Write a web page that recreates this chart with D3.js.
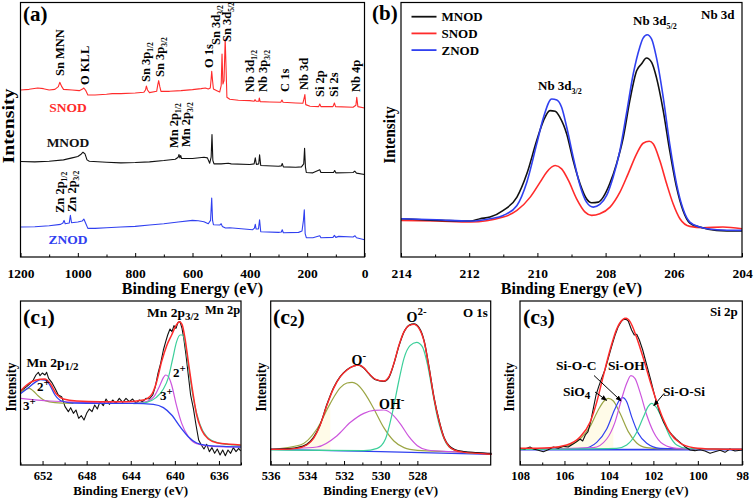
<!DOCTYPE html>
<html><head><meta charset="utf-8">
<script src="https://cdn.jsdelivr.net/npm/d3@7"></script>
<style>body{margin:0;background:#fff}svg{display:block}text{font-family:"Liberation Serif","Times New Roman",serif;font-weight:bold}</style>
</head><body><svg id="chart" width="756" height="500"></svg>
<script>
// ---------- (a) survey spectra: [binding energy eV, intensity a.u.] ----------
const surveyMajor=[1200,1000,800,600,400,200,0];
const surveyMinor=[1100,900,700,500,300,100];
const snodSurvey=[[1200,502],[1170,504],[1140,508],[1120,506],[1100,502],[1080,504],[1068,512],[1063,525],[1056,512],[1050,504],[1020,502],[995,500],[985,504],[979,508],[972,500],[965,487],[940,487],[900,489],[880,491],[850,491],[800,493],[770,495],[764,502],[761,514],[757,502],[750,494],[725,498],[721,518],[718,530],[714,512],[710,498],[680,498],[640,500],[600,503],[570,506],[555,508],[545,505],[538,508],[535,535],[533,558],[530,530],[527,505],[515,500],[505,496],[500,515],[497,610],[494,520],[490,530],[486,655],[483,570],[480,480],[470,474],[440,471],[400,470],[385,468],[382,473],[378,468],[369,468],[367,478],[364,467],[330,466],[292,465],[288,472],[284,465],[240,463],[215,462],[210,480],[208,488],[205,458],[190,453],[160,452],[156,460],[152,452],[110,452],[105,463],[101,452],[40,450],[30,456],[27,480],[23,452],[0,448]];
const mnodSurvey=[[1200,287],[1150,286],[1100,288],[1050,292],[1020,298],[1000,302],[990,308],[982,315],[975,310],[968,292],[960,288],[900,285],[850,283],[800,284],[750,286],[700,290],[660,294],[650,300],[647,308],[644,298],[641,305],[638,296],[600,296],[560,300],[548,298],[540,282],[535,300],[532,368],[529,290],[525,280],[500,280],[475,282],[465,280],[400,278],[385,280],[381,298],[377,278],[369,280],[366,307],[362,275],[300,273],[290,274],[287,281],[283,271],[240,270],[220,271],[212,280],[209,327],[206,270],[203,254],[180,253],[156,262],[152,254],[108,254],[104,260],[100,253],[40,254],[34,258],[28,252],[0,248]];
const znodSurvey=[[1200,90],[1150,91],[1100,94],[1060,98],[1052,102],[1048,110],[1044,100],[1030,102],[1026,125],[1022,103],[1000,105],[985,108],[979,114],[973,102],[965,86],[940,86],[900,88],[850,90],[800,92],[750,96],[700,100],[650,105],[600,110],[580,109],[560,106],[545,100],[537,110],[533,177],[530,110],[527,97],[505,96],[500,100],[496,92],[485,87],[470,88],[420,84],[390,82],[384,87],[381,98],[378,84],[370,84],[366,112],[362,76],[300,74],[290,75],[287,82],[283,73],[230,74],[218,78],[213,110],[210,142],[207,70],[203,58],[180,58],[156,64],[152,58],[110,59],[105,65],[100,59],[90,62],[40,60],[33,64],[28,58],[0,52]];

// ---------- (b) Nb 3d ----------
const nbMajor=[214,212,210,208,206,204];
const nbMinor=[213,211,209,207,205];
const nbMNOD=[[214,115],[212.95,110],[211.97,108],[211.68,115],[211.39,120],[211.0,140],[210.6,180],[210.31,250],[210.02,350],[209.82,410],[209.63,440],[209.48,438],[209.34,420],[209.14,370],[208.95,290],[208.75,220],[208.56,175],[208.41,163],[208.21,165],[208.07,180],[207.88,220],[207.68,280],[207.48,360],[207.29,470],[207.09,560],[206.95,580],[206.8,598],[206.65,585],[206.51,540],[206.31,440],[206.12,320],[205.92,210],[205.73,140],[205.53,102],[205.24,90],[204.75,80],[204,78]];
const nbZNOD=[[214,115],[212.95,112],[211.97,108],[211.39,115],[211.0,125],[210.6,155],[210.31,225],[210.02,340],[209.82,420],[209.58,475],[209.43,472],[209.29,450],[209.14,390],[208.95,300],[208.75,215],[208.56,165],[208.36,150],[208.17,158],[207.97,185],[207.78,240],[207.58,320],[207.39,430],[207.19,550],[207.0,630],[206.9,658],[206.78,668],[206.65,655],[206.51,600],[206.31,480],[206.12,340],[205.92,220],[205.73,145],[205.53,105],[205.24,90],[204.75,82],[204,80]];
const nbSNOD=[[214,110],[212.95,108],[211.97,105],[211.0,120],[210.6,140],[210.21,180],[209.92,225],[209.73,255],[209.48,275],[209.29,265],[209.09,230],[208.85,175],[208.6,135],[208.41,125],[208.17,130],[207.87,150],[207.58,195],[207.34,250],[207.09,310],[206.9,342],[206.72,348],[206.6,340],[206.41,290],[206.21,220],[206.02,160],[205.82,115],[205.53,92],[205.14,88],[204.56,90],[204,85]];

// ---------- (c1) Mn 2p ----------
const mnMajor=[652,648,644,640,636];
const mnMinor=[654,650,646,642,638,634];
const mnRaw=[[654.0,220],[653.74,228],[653.44,235],[653.14,244],[652.84,255],[652.6,270],[652.38,278],[652.23,268],[652.02,276],[651.78,270],[651.63,278],[651.45,260],[651.17,248],[650.87,230],[650.57,210],[650.27,205],[649.96,175],[649.66,160],[649.45,172],[649.2,155],[648.97,165],[648.72,140],[648.48,148],[648.24,135],[648.0,155],[647.76,168],[647.51,160],[647.27,180],[647.03,168],[646.79,190],[646.49,178],[646.24,198],[645.94,182],[645.64,195],[645.34,185],[645.04,200],[644.73,188],[644.43,200],[644.13,190],[643.83,198],[643.52,185],[643.22,195],[642.92,190],[642.62,200],[642.31,198],[642.01,210],[641.77,235],[641.53,275],[641.29,305],[641.04,345],[640.83,370],[640.65,390],[640.44,408],[640.26,400],[640.08,418],[639.9,410],[639.71,428],[639.53,430],[639.35,410],[639.17,375],[638.99,330],[638.78,270],[638.57,210],[638.32,170],[638.08,120],[637.84,75],[637.6,60],[637.36,48],[637.11,62],[636.87,40],[636.63,52],[636.39,35],[636.15,48],[635.9,30],[635.66,45],[635.42,28],[635.18,45],[634.94,35],[634.7,52],[634.45,40],[634.21,50],[634.03,42]];
const mnFit=[[654.0,222],[653.44,240],[652.84,252],[652.23,257],[651.78,258],[651.32,245],[650.72,212],[650.11,198],[648.9,192],[646.79,190],[644.37,190],[642.86,195],[642.1,212],[641.65,250],[641.2,310],[640.74,358],[640.29,390],[639.9,418],[639.59,430],[639.35,422],[639.08,380],[638.78,310],[638.38,220],[638.02,150],[637.57,105],[636.96,78],[636.21,67],[635.0,62],[634.03,60]];
const mnBg=[[654.0,214],[653.29,232],[652.68,248],[652.17,256],[651.78,255],[651.38,242],[650.87,210],[650.27,192],[649.2,186],[646.79,185],[643.77,185],[641.95,182],[641.04,172],[640.29,150],[639.53,115],[638.78,85],[638.02,66],[637.11,59],[635.6,56],[634.03,54]];
const mn3p12=[[654.0,218],[653.59,226],[653.2,230],[652.84,222],[652.38,207],[651.78,193],[650.87,187],[649.2,185]];
const mn3p32=[[654.0,200],[651.32,192],[648.3,188],[643.77,185],[642.56,190],[641.89,205],[641.41,235],[641.04,262],[640.83,270],[640.59,265],[640.29,240],[639.9,185],[639.38,125],[638.78,85],[638.02,64],[636.51,56],[634.03,54]];
const mn2p32=[[643.77,184],[642.56,188],[641.71,202],[641.04,228],[640.59,262],[640.2,318],[639.84,370],[639.53,390],[639.29,390],[639.05,362],[638.75,292],[638.32,200],[637.72,122],[637.11,85],[636.21,68],[634.7,60],[634.03,58]];

// ---------- (c2) O 1s ----------
const oMajor=[536,534,532,530,528];
const oMinor=[535,533,531,529];
const oRaw=[[536,47],[535.31,48],[534.58,52],[534.03,62],[533.66,83],[533.3,121],[532.93,182],[532.57,232],[532.2,266],[531.84,286],[531.47,297],[531.2,300],[530.92,291],[530.65,274],[530.28,256],[529.83,251],[529.55,263],[529.28,304],[529.0,358],[528.73,399],[528.46,419],[528.18,423],[527.91,412],[527.63,372],[527.36,292],[527.09,202],[526.81,132],[526.54,82],[526.26,57],[525.99,47],[525.44,40],[524.71,37],[523.95,33]];
const oFit=[[536,47],[535.31,47],[534.58,50],[534.03,60],[533.66,80],[533.3,120],[532.93,180],[532.57,230],[532.2,265],[531.84,285],[531.47,297],[531.2,300],[530.92,292],[530.65,275],[530.28,257],[529.83,252],[529.55,265],[529.28,305],[529.0,360],[528.73,400],[528.46,418],[528.18,422],[527.91,410],[527.63,370],[527.36,290],[527.09,200],[526.81,130],[526.54,80],[526.26,55],[525.99,45],[525.44,38],[524.71,35],[523.95,32]];
const oMinus=[[536,47],[534.39,60],[533.48,108],[532.75,185],[532.2,232],[531.84,246],[531.56,248],[531.29,242],[530.83,212],[530.37,168],[529.83,112],[529.28,72],[528.73,52],[528.0,44],[526.17,40],[523.95,35]];
const oOH=[[536,47],[533.48,54],[532.38,88],[531.65,128],[530.92,155],[530.37,164],[529.83,165],[529.37,152],[528.91,122],[528.46,85],[528.0,58],[527.45,45],[526.17,40],[523.95,35]];
const o2minus=[[536,45],[530.92,43],[530.19,50],[529.74,78],[529.37,155],[529.0,255],[528.73,320],[528.4,358],[528.04,368],[527.73,355],[527.45,302],[527.18,222],[526.9,142],[526.54,78],[526.17,50],[525.44,38],[523.95,34]];
const oBg=[[536,47],[530,40],[523.95,32]];

// ---------- (c3) Si 2p ----------
const siMajor=[108,106,104,102,100,98];
const siMinor=[107,105,103,101,99];
const siRaw=[[108,50],[107.78,48],[107.55,54],[107.4,48],[107.18,44],[106.95,40],[106.73,46],[106.5,54],[106.28,50],[106.05,56],[105.83,54],[105.63,62],[105.45,70],[105.3,78],[105.18,72],[105.06,90],[104.94,100],[104.82,130],[104.7,170],[104.58,210],[104.46,235],[104.33,260],[104.18,285],[104.03,320],[103.88,355],[103.73,388],[103.58,415],[103.43,432],[103.28,440],[103.13,432],[102.98,405],[102.86,390],[102.75,392],[102.63,375],[102.48,345],[102.3,300],[102.12,255],[101.93,205],[101.73,160],[101.55,130],[101.37,108],[101.18,92],[100.98,78],[100.8,68],[100.58,55],[100.35,45],[100.13,43],[99.9,46],[99.68,42],[99.45,35],[99.23,40],[99.0,44],[98.78,38],[98.56,48],[98.33,42],[98,45]];
const siFit=[[108,50],[106.65,52],[105.9,60],[105.3,84],[104.85,128],[104.55,188],[104.25,268],[103.95,345],[103.65,408],[103.38,436],[103.23,440],[103.05,430],[102.75,382],[102.45,320],[102.15,252],[101.85,190],[101.55,136],[101.25,96],[100.8,66],[100.2,52],[99.3,48],[98,47]];
const siSiO4=[[108,48],[106.65,50],[105.9,57],[105.3,78],[104.85,115],[104.48,165],[104.22,192],[104.03,200],[103.8,192],[103.5,155],[103.13,100],[102.75,66],[102.3,52],[101.4,48],[98,47]];
const siSiOC=[[108,47],[105.15,50],[104.55,68],[104.1,108],[103.73,168],[103.5,197],[103.38,202],[103.2,190],[102.98,145],[102.68,95],[102.3,65],[101.7,50],[98,47]];
const siSiOH=[[108,47],[104.7,52],[104.1,78],[103.73,128],[103.43,198],[103.2,245],[103.01,268],[102.83,260],[102.6,218],[102.3,150],[102.0,100],[101.55,62],[100.95,50],[98,47]];
const siSiOSi=[[108,47],[103.65,50],[103.2,60],[102.75,98],[102.45,144],[102.23,176],[102.08,185],[101.88,174],[101.55,130],[101.25,85],[100.95,60],[100.5,50],[98,47]];
const siBg=[[108,46],[98,46]];

// ---------- drawing ----------
const FONT='"Liberation Serif","Times New Roman",serif';
const RED='#ff2b2b', BLUE='#3040f0', TEAL='#3ccf9a', MAG='#cc55dd', OLIVE='#9ba544', PALE='#fffbe8';
const svg=d3.select('#chart');

function panel(def){
  const g=svg.append('g');
  const x=d3.scaleLinear().domain(def.xd).range(def.xr);
  const y=d3.scaleLinear().domain(def.yd).range([def.yr[1],def.yr[0]]);
  const ax=g.append('g').attr('transform',`translate(0,${def.yr[1]})`)
    .call(d3.axisBottom(x).tickValues(def.major).tickSize(-4).tickPadding(def.pad).tickFormat(d3.format('d')));
  ax.select('.domain').remove();
  ax.selectAll('text').attr('font-size',def.tf).attr('font-family',FONT).attr('font-weight','bold').attr('fill','#000');
  ax.selectAll('line').attr('stroke','#000').attr('stroke-width',1);
  const mn=g.append('g').attr('transform',`translate(0,${def.yr[1]})`)
    .call(d3.axisBottom(x).tickValues(def.minor).tickSize(-2.5).tickFormat(''));
  mn.select('.domain').remove();
  mn.selectAll('line').attr('stroke','#000');
  const plot=g.append('g');
  g.append('rect').attr('x',def.xr[0]).attr('y',def.yr[0]).attr('width',def.xr[1]-def.xr[0]).attr('height',def.yr[1]-def.yr[0])
    .attr('fill','none').attr('stroke','#000').attr('stroke-width',1.2);
  g.append('text').attr('x',(def.xr[0]+def.xr[1])/2).attr('y',def.titleY).attr('text-anchor','middle')
    .attr('font-size',def.titleF).text('Binding Energy (eV)');
  g.append('text').attr('transform',`translate(${def.intX},${def.intY}) rotate(-90)`).attr('text-anchor','middle')
    .attr('font-size',def.intF).attr('textLength',def.intL).attr('lengthAdjust','spacingAndGlyphs').text('Intensity');
  return {g,plot,x,y};
}
function draw(p,data,color,w,curve){
  p.plot.append('path').datum(data).attr('fill','none').attr('stroke',color).attr('stroke-width',w)
    .attr('stroke-linejoin','round')
    .attr('d',d3.line().x(d=>p.x(d[0])).y(d=>p.y(d[1])).curve(curve||d3.curveLinear));
}
function fillUnder(p,data,base,color){
  p.plot.append('path').datum(data).attr('fill',color).attr('stroke','none')
    .attr('d',d3.area().x(d=>p.x(d[0])).y0(p.y(base)).y1(d=>p.y(d[1])).curve(d3.curveMonotoneX));
}
function rich(parent,parts,size,attrs){
  const t=parent.append('text').attr('font-size',size);
  Object.entries(attrs||{}).forEach(([k,v])=>t.attr(k,v));
  let cur=0;
  parts.forEach(pt=>{
    const a=typeof pt==='string'?[pt,'n',size,0]:pt;
    const target=a[1]==='n'?0:a[3];
    const ts=t.append('tspan').text(a[0]).attr('font-size',a[2]);
    if(target!==cur) ts.attr('dy',target-cur);
    cur=target;
  });
  return t;
}
function vlabel(parent,cx,yb,parts,size){
  const g=parent.append('g').attr('transform',`translate(${cx+size*0.33},${yb}) rotate(-90)`);
  rich(g,parts,size,{x:0,y:0});
}
const MC=d3.curveMonotoneX;

// ---- panel a ----
const pa=panel({xd:[1200,0],xr:[20.5,364.5],yd:[0,765],yr:[2.5,257],major:surveyMajor,minor:surveyMinor,pad:11,tf:13.5,
  titleY:294,titleF:16,intX:13.5,intY:126,intF:16,intL:75});
draw(pa,snodSurvey,RED,1.1);
draw(pa,mnodSurvey,'#111',1.1);
draw(pa,znodSurvey,BLUE,1.1);
rich(pa.g,['(a)'],21,{x:23,y:21});
const s1=(t)=>[t,'sub',7.5,3];
const LS=12.5;
vlabel(pa.g,60,76,['Sn MNN'],LS);
vlabel(pa.g,85,85,['O KLL'],LS);
vlabel(pa.g,146,82,['Sn 3p',s1('1/2')],LS);
vlabel(pa.g,160,77,['Sn 3p',s1('3/2')],LS);
vlabel(pa.g,209,68,['O 1s'],LS);
vlabel(pa.g,216,45,['Sn 3d',s1('3/2')],LS);
vlabel(pa.g,227,42,['Sn 3d',s1('5/2')],LS);
vlabel(pa.g,250,92,['Nb 3d',s1('1/2')],LS);
vlabel(pa.g,263,92,['Nb 3p',s1('3/2')],LS);
vlabel(pa.g,285,92,['C 1s'],LS);
vlabel(pa.g,304,90,['Nb 3d'],LS);
vlabel(pa.g,320,97,['Si 2p'],LS);
vlabel(pa.g,334,97,['Si 2s'],LS);
vlabel(pa.g,356,92,['Nb 4p'],LS);
vlabel(pa.g,174,148,['Mn 2p',s1('1/2')],LS);
vlabel(pa.g,186,147,['Mn 2p',s1('3/2')],LS);
vlabel(pa.g,59.5,213,['Zn 2p',s1('1/2')],LS);
vlabel(pa.g,72,212,['Zn 2p',s1('3/2')],LS);
rich(pa.g,['SNOD'],13.5,{x:68,y:112,'text-anchor':'middle',fill:RED});
rich(pa.g,['MNOD'],13.5,{x:68,y:147,'text-anchor':'middle',fill:'#111'});
rich(pa.g,['ZNOD'],13.5,{x:68,y:244,'text-anchor':'middle',fill:BLUE});

// ---- panel b ----
const pb=panel({xd:[214,204],xr:[401,742],yd:[0,765],yr:[2.5,257],major:nbMajor,minor:nbMinor,pad:11,tf:13.5,
  titleY:294,titleF:16,intX:395,intY:135,intF:16,intL:57});
draw(pb,nbSNOD,RED,1.6,MC);
draw(pb,nbMNOD,'#111',1.6,MC);
draw(pb,nbZNOD,BLUE,1.6,MC);
rich(pb.g,['(b)'],21,{x:372,y:20});
const legend=[['MNOD','#111'],['SNOD',RED],['ZNOD',BLUE]];
legend.forEach(([n,c],i)=>{
  const yy=16.7+i*16.7;
  pb.g.append('line').attr('x1',411.5).attr('x2',436.5).attr('y1',yy).attr('y2',yy).attr('stroke',c).attr('stroke-width',1.8);
  rich(pb.g,[n],13,{x:441.5,y:yy+4.5});
});
rich(pb.g,['Nb 3d',['5/2','sub',8,4]],13,{x:633,y:25});
rich(pb.g,['Nb 3d',['3/2','sub',8,4]],13,{x:538,y:90});
rich(pb.g,['Nb 3d'],13,{x:701,y:18.5});

// ---- panel c1 ----
const cCommon={yd:[0,492],yr:[301,465],pad:6.2,tf:12.5,titleY:494.5,titleF:13,intY:387,intF:14,intL:49};
const pc1=panel(Object.assign({xd:[654,634],xr:[20.5,241],major:mnMajor,minor:mnMinor,intX:15.5},cCommon));
draw(pc1,mnRaw,'#111',1.1);
draw(pc1,mn3p12,OLIVE,1.2,MC);
draw(pc1,mn3p32,MAG,1.2,MC);
draw(pc1,mn2p32,TEAL,1.2,MC);
draw(pc1,mnBg,BLUE,1.3,MC);
draw(pc1,mnFit,RED,1.5,MC);
rich(pc1.g,['(c',['1','sub',15,2],')'],22,{x:23,y:324});
rich(pc1.g,['Mn 2p',['3/2','sub',11,3]],13.5,{x:147,y:317});
rich(pc1.g,['Mn 2p'],12.5,{x:205,y:314});
rich(pc1.g,['Mn 2p',['1/2','sub',11,3]],13.5,{x:26.5,y:367});
const sp=(t)=>[t,'sup',11,-5];
rich(pc1.g,['2',sp('+')],13,{x:37,y:391});
rich(pc1.g,['3',sp('+')],13,{x:23,y:410});
rich(pc1.g,['2',sp('+')],13,{x:173,y:377});
rich(pc1.g,['3',sp('+')],13,{x:160,y:400});

// ---- panel c2 ----
const pc2=panel(Object.assign({xd:[536,524],xr:[270.7,490.7],major:oMajor,minor:oMinor,intX:265.5},cCommon));
fillUnder(pc2,oMinus.filter(d=>d[0]>532.3),45,PALE);
draw(pc2,oBg,BLUE,1.3);
draw(pc2,oMinus,OLIVE,1.2,MC);
draw(pc2,oOH,MAG,1.2,MC);
draw(pc2,o2minus,TEAL,1.2,MC);
draw(pc2,oRaw,'#111',1.3,MC);
draw(pc2,oFit,RED,1.4,MC);
rich(pc2.g,['(c',['2','sub',15,2],')'],22,{x:273,y:324});
rich(pc2.g,['O 1s'],13,{x:463,y:316.5});
rich(pc2.g,['O',['2-','sup',11,-7]],14,{x:406.5,y:322});
rich(pc2.g,['O',['-','sup',11,-6]],14,{x:351.5,y:365});
rich(pc2.g,['OH',['-','sup',11,-6]],14,{x:379,y:409});

// ---- panel c3 ----
const pc3=panel(Object.assign({xd:[108,98],xr:[520,742.3],major:siMajor,minor:siMinor,intX:514},cCommon));
fillUnder(pc3,siSiO4.filter(d=>d[0]>103.7),46,PALE);
draw(pc3,siBg,BLUE,1.6);
draw(pc3,siSiO4,OLIVE,1.2,MC);
draw(pc3,siSiOC,BLUE,1.2,MC);
draw(pc3,siSiOH,MAG,1.2,MC);
draw(pc3,siSiOSi,TEAL,1.2,MC);
draw(pc3,siRaw,'#111',1.1);
draw(pc3,siFit,RED,1.5,MC);
rich(pc3.g,['(c',['3','sub',15,2],')'],22,{x:523,y:324});
rich(pc3.g,['Si 2p'],13,{x:710,y:315.5});
rich(pc3.g,['Si-O-C'],13.5,{x:556,y:370});
rich(pc3.g,['Si-OH'],13.5,{x:608,y:370});
rich(pc3.g,['SiO',['4','sub',11,3]],13.5,{x:563,y:395.5});
rich(pc3.g,['Si-O-Si'],13.5,{x:663,y:395.5});
svg.append('defs').append('marker').attr('id','ah').attr('viewBox','0 0 10 10').attr('refX',9).attr('refY',5)
  .attr('markerWidth',6).attr('markerHeight',6).attr('orient','auto')
  .append('path').attr('d','M0,1L10,5L0,9z').attr('fill','#000');
const arrows=[[595,392,104.1,194],[594,375.5,103.45,192],[664,393.5,101.98,178]];
arrows.forEach(([x0,y0,e,i])=>{
  pc3.g.append('line').attr('x1',x0).attr('y1',y0).attr('x2',pc3.x(e)).attr('y2',pc3.y(i))
    .attr('stroke','#000').attr('stroke-width',1).attr('marker-end','url(#ah)');
});
</script></body></html>
